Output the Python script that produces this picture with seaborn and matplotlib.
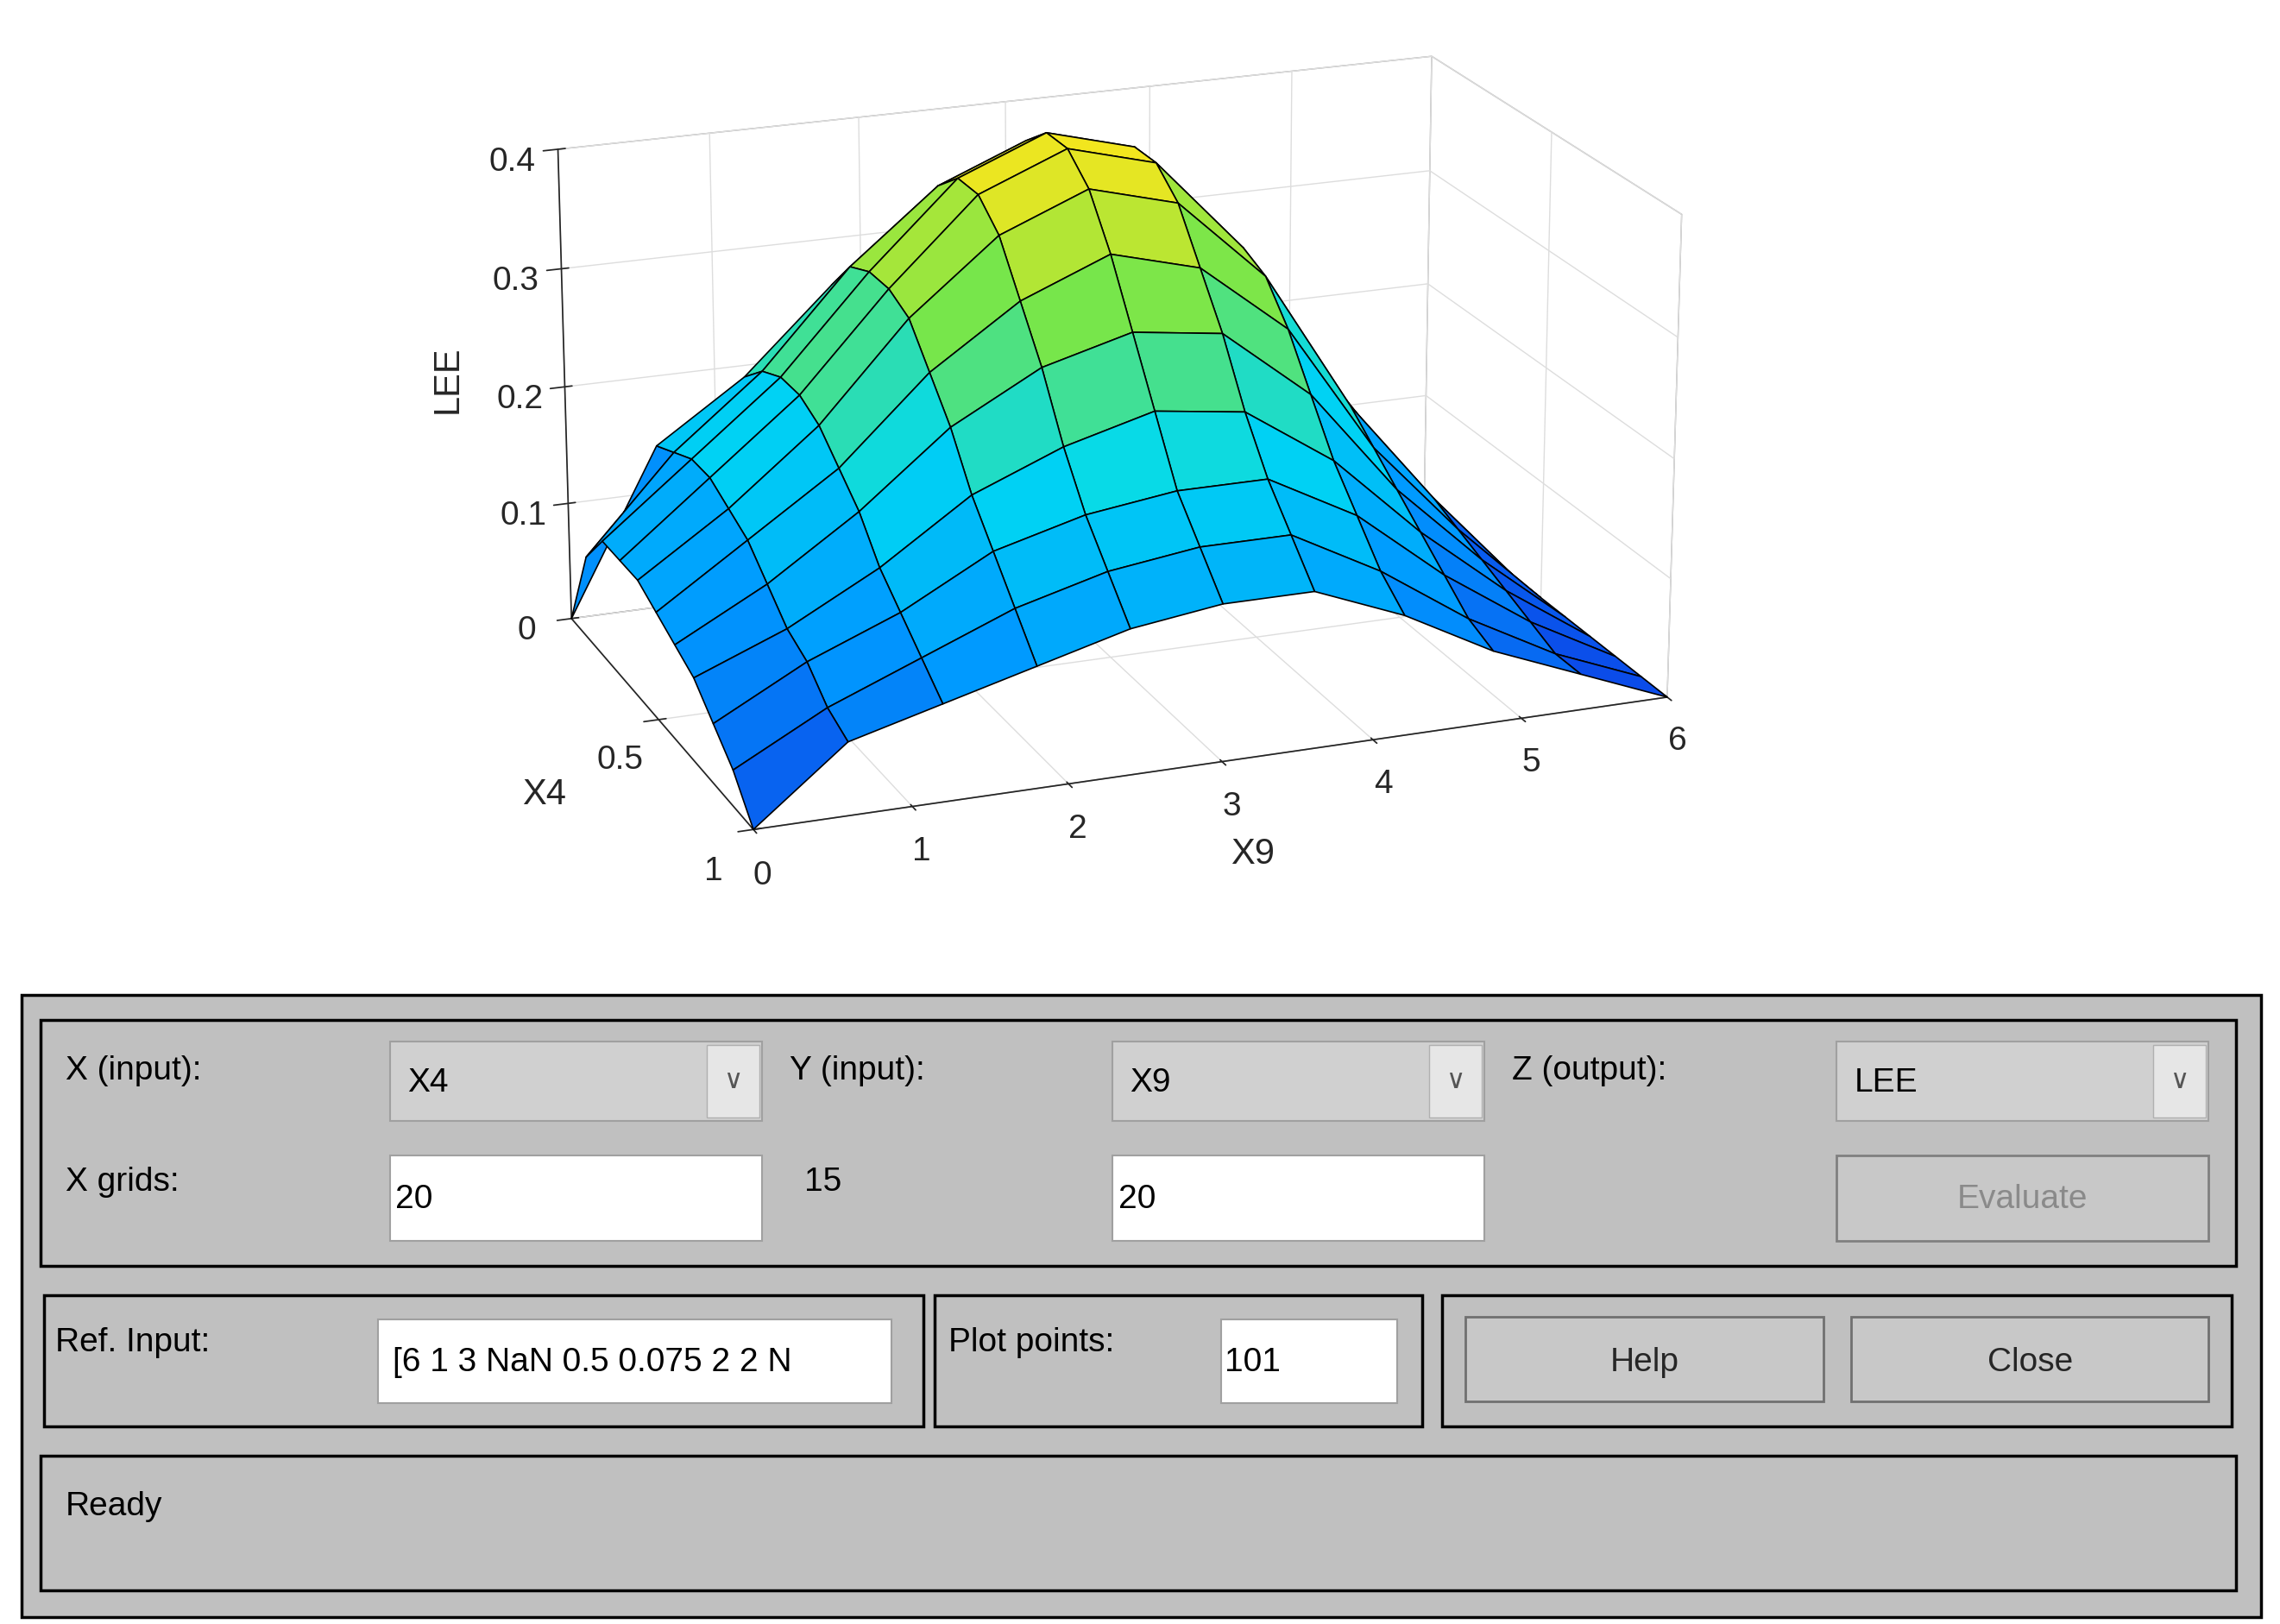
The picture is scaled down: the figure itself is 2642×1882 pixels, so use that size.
import numpy as np
import matplotlib
matplotlib.use("Agg")
import matplotlib.pyplot as plt
import seaborn as sns
from matplotlib.colors import LinearSegmentedColormap
from matplotlib.patches import Rectangle

sns.set_theme(style="white")
plt.rcParams['font.family'] = ['Liberation Sans', 'DejaVu Sans']

# X9 (0..6) columns, X4 (0..1) rows, LEE values
x9_vals = [0, 0.6, 1.2, 1.8, 2.4, 3.0, 3.6, 4.2, 4.8, 5.4, 6.0]
x4_vals = [0, 0.1, 0.2, 0.3, 0.4, 0.5, 0.6, 0.7, 0.8, 0.9, 1.0]
lee = [
    [0.00, 0.14, 0.19, 0.26, 0.31, 0.34, 0.32, 0.26, 0.15, 0.07, 0],
    [0.07, 0.15, 0.21, 0.29, 0.35, 0.38, 0.36, 0.29, 0.17, 0.08, 0],
    [0.10, 0.16, 0.22, 0.30, 0.37, 0.40, 0.38, 0.30, 0.18, 0.08, 0],
    [0.10, 0.16, 0.22, 0.30, 0.37, 0.40, 0.38, 0.30, 0.18, 0.08, 0],
    [0.10, 0.15, 0.21, 0.29, 0.35, 0.38, 0.36, 0.29, 0.17, 0.08, 0],
    [0.09, 0.14, 0.19, 0.26, 0.31, 0.34, 0.32, 0.26, 0.15, 0.07, 0],
    [0.08, 0.12, 0.17, 0.23, 0.27, 0.29, 0.28, 0.22, 0.13, 0.06, 0],
    [0.07, 0.10, 0.14, 0.19, 0.22, 0.24, 0.23, 0.18, 0.11, 0.05, 0],
    [0.05, 0.09, 0.12, 0.16, 0.18, 0.19, 0.19, 0.15, 0.09, 0.04, 0],
    [0.03, 0.07, 0.10, 0.13, 0.15, 0.16, 0.16, 0.12, 0.07, 0.03, 0],
    [0.00, 0.06, 0.08, 0.10, 0.12, 0.13, 0.13, 0.10, 0.06, 0.03, 0],
]

parula = LinearSegmentedColormap.from_list(
    "parula_like", [(0.05, 0.25, 0.9), (0.0, 0.6, 1.0), (0.0, 0.85, 0.95),
                    (0.45, 0.9, 0.3), (1.0, 0.9, 0.1)])

fig = plt.figure(figsize=(26.42, 18.82), dpi=100)
fig.patch.set_facecolor("white")

ax = fig.add_axes([0.0, 0.36, 0.96, 0.74], projection="3d")
X, Y = np.meshgrid(x9_vals, x4_vals)
Z = np.array(lee)
ax.plot_surface(X, Y, Z, cmap=parula, vmin=0, vmax=0.4, edgecolor="black",
                linewidth=1.2, rstride=1, cstride=1, shade=False)
ax.set_xlim(0, 6)
ax.set_ylim(1, 0)
ax.set_zlim(0, 0.4)
ax.set_xticks([0, 1, 2, 3, 4, 5, 6])
ax.set_yticks([0.5, 1])
ax.set_yticklabels(["0.5", "1"])
ax.set_zticks([0, 0.1, 0.2, 0.3, 0.4])
ax.set_zticklabels(["0", "0.1", "0.2", "0.3", "0.4"])
ax.tick_params(labelsize=28, colors="#262626", pad=14)
ax.set_xlabel("X9", fontsize=30, labelpad=48)
ax.set_ylabel("X4", fontsize=30, labelpad=44)
ax.set_zlabel("LEE", fontsize=30, labelpad=36)
ax.zaxis.label.set_rotation(90)
for a in (ax.xaxis, ax.yaxis, ax.zaxis):
    a.pane.set_facecolor((1, 1, 1, 0))
    a.pane.set_edgecolor("#444444")
    a._axinfo["grid"]["color"] = "#dddddd"
ax.view_init(elev=19, azim=-111)
ax.set_box_aspect((1.9, 1.2, 1.0))

# GUI panel drawn in reference pixel coordinates
ui = fig.add_axes([0, 0, 1, 1], facecolor="none")
ui.set_xlim(0, 1568)
ui.set_ylim(1110, 0)
ui.axis("off")
gray = "#c0c0c0"


def box(x0, y0, x1, y1, fc=gray, ec="black", lw=2.5):
    ui.add_patch(Rectangle((x0, y0), x1 - x0, y1 - y0, facecolor=fc, edgecolor=ec, lw=lw))


def label(x, y, s, color="black"):
    ui.text(x, y, s, fontsize=28, color=color, va="center", ha="left")


box(15, 680, 1555, 1105)
for b in [(28, 697, 1538, 865), (30, 885, 635, 975), (643, 885, 978, 975),
          (992, 885, 1535, 975), (28, 995, 1538, 1087)]:
    box(*b)

for x0, txt in [(268, "X4"), (765, "X9"), (1263, "LEE")]:
    box(x0, 712, x0 + 256, 766, fc="#d0d0d0", ec="#a0a0a0", lw=1.5)
    box(x0 + 218, 714, x0 + 254, 764, fc="#e6e6e6", ec="#b0b0b0", lw=1)
    ui.text(x0 + 236, 739, "\u2228", fontsize=22, color="#555555", ha="center", va="center")
    label(x0 + 12, 740, txt)

for x0 in (268, 765):
    box(x0, 790, x0 + 256, 848, fc="white", ec="#a0a0a0", lw=1.5)
    label(x0 + 4, 820, "20")
box(1263, 790, 1519, 848, fc="#c8c8c8", ec="#808080", lw=2)
ui.text(1391, 820, "Evaluate", fontsize=28, color="#8a8a8a", ha="center", va="center")

box(260, 902, 613, 959, fc="white", ec="#a0a0a0", lw=1.5)
label(270, 931, "[6 1 3 NaN 0.5 0.075 2 2 N")
box(840, 902, 961, 959, fc="white", ec="#a0a0a0", lw=1.5)
label(842, 931, "101")
for x0, txt in [(1008, "Help"), (1273, "Close")]:
    box(x0, 900, x0 + 246, 958, fc="#c8c8c8", ec="#707070", lw=2)
    ui.text(x0 + 123, 931, txt, fontsize=28, ha="center", va="center")

label(45, 732, "X (input):")
label(543, 732, "Y (input):")
label(1040, 732, "Z (output):")
label(45, 808, "X grids:")
label(553, 808, "15")
label(38, 918, "Ref. Input:")
label(652, 918, "Plot points:")
label(45, 1030, "Ready")

fig.savefig("out.png", dpi=100)
